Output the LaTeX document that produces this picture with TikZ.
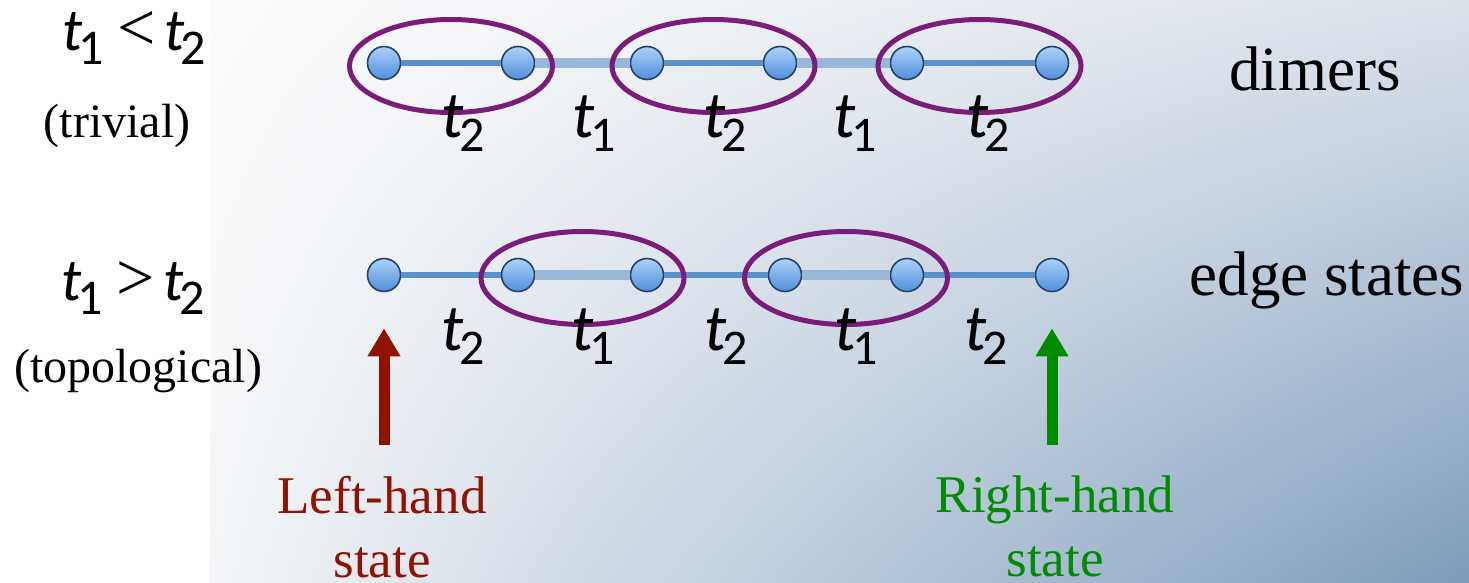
\documentclass[tikz,border=0pt]{standalone}
\usepackage{fontspec}
\setmainfont{Liberation Serif}
\newfontfamily\hopfont{Carlito}
\usetikzlibrary{calc, arrows.meta, shadings}

\definecolor{sitetop}{RGB}{172,209,248}
\definecolor{sitebot}{RGB}{80,143,220}
\definecolor{siteedge}{RGB}{38,66,102}
\definecolor{weakbond}{RGB}{92,144,200}
\definecolor{strongbond}{RGB}{152,183,217}
\definecolor{dimerpurple}{RGB}{122,28,122}
\definecolor{lefthandred}{RGB}{145,18,0}
\definecolor{righthandgreen}{RGB}{0,140,0}
\definecolor{bgul}{RGB}{252,252,253}
\definecolor{bgur}{RGB}{220,226,234}
\definecolor{bgll}{RGB}{243,245,247}
\definecolor{bglr}{RGB}{126,156,188}

\newcommand{\hop}[1]{{\itshape t}\kern-4pt\raisebox{-14pt}{\fontsize{50}{50}\selectfont #1}}
\newcommand{\rel}[1]{\hskip14pt{\rmfamily\fontsize{68}{68}\selectfont #1}\hskip8pt}

\begin{document}
\begin{tikzpicture}[x=1pt, y=-1pt,
  site/.style={circle, draw=siteedge, line width=1.6pt, top color=sitetop,
    bottom color=sitebot, minimum size=33pt, inner sep=0pt},
  weak/.style={draw=weakbond, line width=6pt},
  strong/.style={draw=strongbond, line width=10pt},
  dimer/.style={draw=dimerpurple, line width=5pt},
  hoplabel/.style={anchor=base, inner sep=0pt, font=\hopfont\fontsize{66}{70}\selectfont},
  condlabel/.style={anchor=base, inner sep=0pt, font=\hopfont\fontsize{60}{64}\selectfont},
  namelabel/.style={anchor=base, inner sep=0pt, font=\fontsize{48}{54}\selectfont},
  phaselabel/.style={anchor=base, inner sep=0pt, font=\fontsize{63}{70}\selectfont},
  statelabel/.style={anchor=north, inner sep=0pt, align=center, font=\fontsize{53}{64}\selectfont},
  edgearrow/.style={line width=11pt, -{Triangle[width=31pt, length=28pt]},
    shorten <=31pt, shorten >=36pt}]

  % background
  \fill[white] (0,0) rectangle (1469,582);
  \shade[upper left=bgul, upper right=bgur, lower left=bgll, lower right=bglr]
    (210,0) rectangle (1469,582);

  % trivial chain
  \node[site] (a1) at (384,63) {};
  \node[site] (a2) at (518,63) {};
  \node[site] (a3) at (647,63) {};
  \node[site] (a4) at (780,63) {};
  \node[site] (a5) at (907,63) {};
  \node[site] (a6) at (1052,63) {};
  \draw[weak] (a1) -- (a2);
  \draw[strong] (a2) -- (a3);
  \draw[weak] (a3) -- (a4);
  \draw[strong] (a4) -- (a5);
  \draw[weak] (a5) -- (a6);
  \draw[dimer] ($(a1)!0.5!(a2)+(0,3)$) ellipse [x radius=101.5, y radius=46.5];
  \draw[dimer] ($(a3)!0.5!(a4)+(0,3)$) ellipse [x radius=101.5, y radius=46.5];
  \draw[dimer] ($(a5)!0.5!(a6)+(0,3)$) ellipse [x radius=101.5, y radius=46.5];
  \node[hoplabel] (ta1) at ($(a1)!0.5!(a2)+(12,74)$) {\hop{2}};
  \node[hoplabel] (ta2) at ($(a2)!0.5!(a3)+(12,74)$) {\hop{1}};
  \node[hoplabel] (ta3) at ($(a3)!0.5!(a4)+(12,74)$) {\hop{2}};
  \node[hoplabel] (ta4) at ($(a4)!0.5!(a5)+(12,74)$) {\hop{1}};
  \node[hoplabel] (ta5) at ($(a5)!0.5!(a6)+(9,74)$) {\hop{2}};

  % topological chain
  \node[site] (b1) at (384,275) {};
  \node[site] (b2) at (518,275) {};
  \node[site] (b3) at (647,275) {};
  \node[site] (b4) at (785,275) {};
  \node[site] (b5) at (907,275) {};
  \node[site] (b6) at (1052,275) {};
  \draw[weak] (b1) -- (b2);
  \draw[strong] (b2) -- (b3);
  \draw[weak] (b3) -- (b4);
  \draw[strong] (b4) -- (b5);
  \draw[weak] (b5) -- (b6);
  \draw[dimer] ($(b2)!0.5!(b3)+(0,3)$) ellipse [x radius=101.5, y radius=46.5];
  \draw[dimer] ($(b4)!0.5!(b5)+(0,3)$) ellipse [x radius=101.5, y radius=46.5];
  \node[hoplabel] (tb1) at ($(b1)!0.5!(b2)+(12,75)$) {\hop{2}};
  \node[hoplabel] (tb2) at ($(b2)!0.5!(b3)+(11,75)$) {\hop{1}};
  \node[hoplabel] (tb3) at ($(b3)!0.5!(b4)+(10,75)$) {\hop{2}};
  \node[hoplabel] (tb4) at ($(b4)!0.5!(b5)+(10,75)$) {\hop{1}};
  \node[hoplabel] (tb5) at ($(b5)!0.5!(b6)+(7,75)$) {\hop{2}};

  % phases
  \node[condlabel] (trivcond) at (134,50) {\hop{1}\rel{<}\hop{2}};
  \node[namelabel] (trivname) at (117,137) {(trivial)};
  \node[condlabel] (topocond) at (133,300) {\hop{1}\rel{>}\hop{2}};
  \node[namelabel] (toponame) at (138,382) {(topological)};
  \node[phaselabel] (dimers) at (1315,90) {dimers};
  \node[phaselabel] (edges) at (1327,295) {edge states};

  % edge states
  \node[statelabel, text=lefthandred] (lefthand) at (382,476) {Left-hand\\state};
  \node[statelabel, text=righthandgreen] (righthand) at (1055,476) {Right-hand\\state};
  \draw[edgearrow, lefthandred] (b1.south |- lefthand.north) -- (b1.south);
  \draw[edgearrow, righthandgreen] (b6.south |- righthand.north) -- (b6.south);
\end{tikzpicture}
\end{document}
